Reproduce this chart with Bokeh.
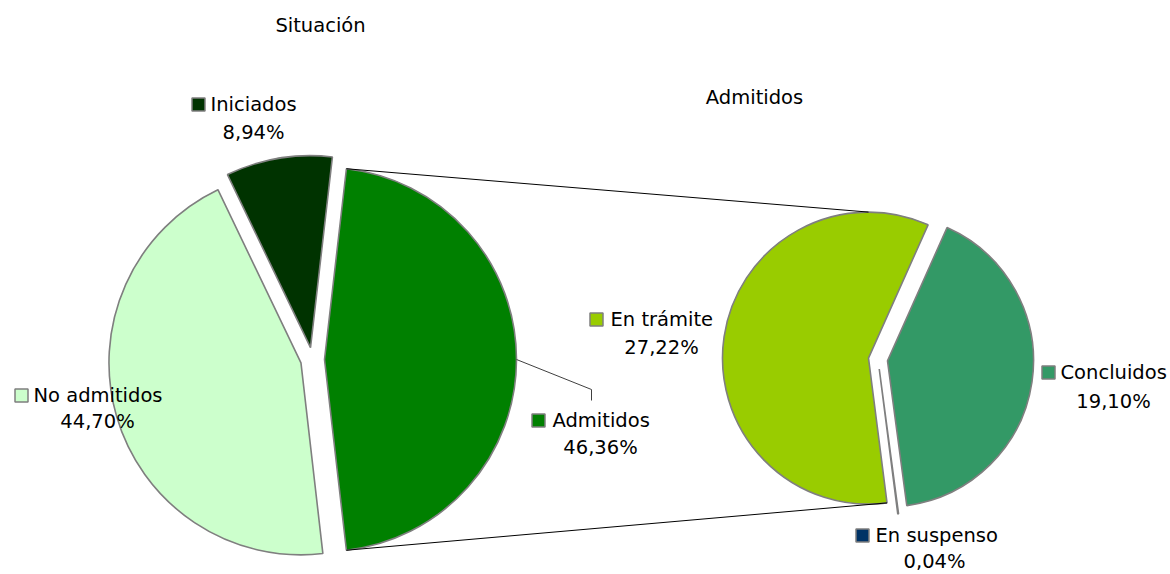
import math
from bokeh.plotting import figure
from bokeh.models import Range1d
from bokeh.core.properties import value
from bokeh.embed import file_html
from bokeh.resources import INLINE

# ---------------- data ----------------
sit_names = ["Admitidos", "Iniciados", "No admitidos"]
sit_values = [46.36, 8.94, 44.70]
sit_colors = ["#008000", "#003300", "#CCFFCC"]

adm_names = ["Concluidos", "En trámite", "En suspenso"]
adm_values = [19.10, 27.22, 0.04]
adm_colors = ["#339966", "#99CC00", "#003366"]

title_left = "Situación"
title_right = "Admitidos"

# ---------------- layout ----------------
W, H = 1170, 574
FONT = "DejaVu Sans"
FS = "19.5px"

def sy(y):
    return H - y

p = figure(width=W, height=H, output_backend="svg", toolbar_location=None,
           x_range=Range1d(0, W), y_range=Range1d(0, H), min_border=0)
p.axis.visible = False
p.grid.visible = False
p.outline_line_color = None
p.background_fill_color = "white"
p.border_fill_color = "white"

def fmt(v):
    return ("%.2f" % v).replace(".", ",") + "%"

# primary pie
c1x, c1y = 312.0, sy(359)
r1, d1 = 192.0, 12.0
tot1 = sum(sit_values)
start = -sit_values[0] / tot1 * math.pi  # first slice centred on the right
apex1 = {}
ang1 = {}
for name, v, col in zip(sit_names, sit_values, sit_colors):
    span = v / tot1 * 2 * math.pi
    mid = start + span / 2
    ax = c1x + d1 * math.cos(mid)
    ay = c1y + d1 * math.sin(mid)
    p.wedge(x=[ax], y=[ay], radius=r1, start_angle=start, end_angle=start + span,
            fill_color=col, line_color="#7F7F7F", line_width=1.6)
    apex1[name] = (ax, ay)
    ang1[name] = (start, start + span)
    start += span

# secondary pie
c2x, c2y = 877.5, sy(359)
r2, d2 = 146.0, 9.6
tot2 = sum(adm_values)
start = math.radians(-82.4)
apex2 = {}
ang2 = {}
for name, v, col in zip(adm_names, adm_values, adm_colors):
    span = v / tot2 * 2 * math.pi
    mid = start + span / 2
    ax = c2x + d2 * math.cos(mid)
    ay = c2y + d2 * math.sin(mid)
    p.wedge(x=[ax], y=[ay], radius=r2, start_angle=start, end_angle=start + span,
            fill_color=col, line_color="#7F7F7F", line_width=1.6)
    apex2[name] = (ax, ay)
    ang2[name] = (start, start + span)
    start += span

# connector lines
a_ax, a_ay = apex1["Admitidos"]
a_s, a_e = ang1["Admitidos"]
top1 = (a_ax + r1 * math.cos(a_e), a_ay + r1 * math.sin(a_e))
bot1 = (a_ax + r1 * math.cos(a_s), a_ay + r1 * math.sin(a_s))
t_ax, t_ay = apex2["En trámite"]
t_s, t_e = ang2["En trámite"]
top2 = (t_ax, t_ay + r2)
bot2 = (t_ax + r2 * math.cos(t_e), t_ay + r2 * math.sin(t_e))
p.line(x=[top1[0], top2[0]], y=[top1[1], top2[1]], line_color="black", line_width=1)
p.line(x=[bot1[0], bot2[0]], y=[bot1[1], bot2[1]], line_color="black", line_width=1)

# leader line for Admitidos label
mid_a = (a_s + a_e) / 2
lx0, ly0 = a_ax + r1 * math.cos(mid_a), a_ay + r1 * math.sin(mid_a)
p.line(x=[lx0, 591, 591], y=[ly0, sy(389), sy(400)], line_color="#404040", line_width=1)

# titles
p.text(x=[320], y=[sy(25)], text=[title_left], text_font=value(FONT), text_font_size=FS,
       text_align="center", text_baseline="middle", text_color="black")
p.text(x=[754], y=[sy(97)], text=[title_right], text_font=value(FONT), text_font_size=FS,
       text_align="center", text_baseline="middle", text_color="black")

# labels: key centre, name left x, line y, pct centre x, pct y
label_pos = {
    "Iniciados": (198, 210, 104, 253, 132),
    "No admitidos": (21, 33, 395, 97, 421),
    "Admitidos": (538, 552, 420, 600, 447),
    "En trámite": (596, 610, 319, 661, 347),
    "Concluidos": (1048, 1060, 372, 1113, 401),
    "En suspenso": (862, 875, 535, 934, 561),
}
all_names = sit_names + adm_names
all_vals = sit_values + adm_values
all_cols = sit_colors + adm_colors
for name, v, col in zip(all_names, all_vals, all_cols):
    kx, nx, ny, px, py = label_pos[name]
    p.scatter(x=[kx], y=[sy(ny)], marker="square", size=13, fill_color=col,
              line_color="#7F7F7F", line_width=1.5)
    p.text(x=[nx], y=[sy(ny)], text=[name], text_font=value(FONT), text_font_size=FS,
           text_align="left", text_baseline="middle", text_color="black")
    p.text(x=[px], y=[sy(py)], text=[fmt(v)], text_font=value(FONT), text_font_size=FS,
           text_align="center", text_baseline="middle", text_color="black")

open("out.html", "w").write(file_html(p, INLINE))
